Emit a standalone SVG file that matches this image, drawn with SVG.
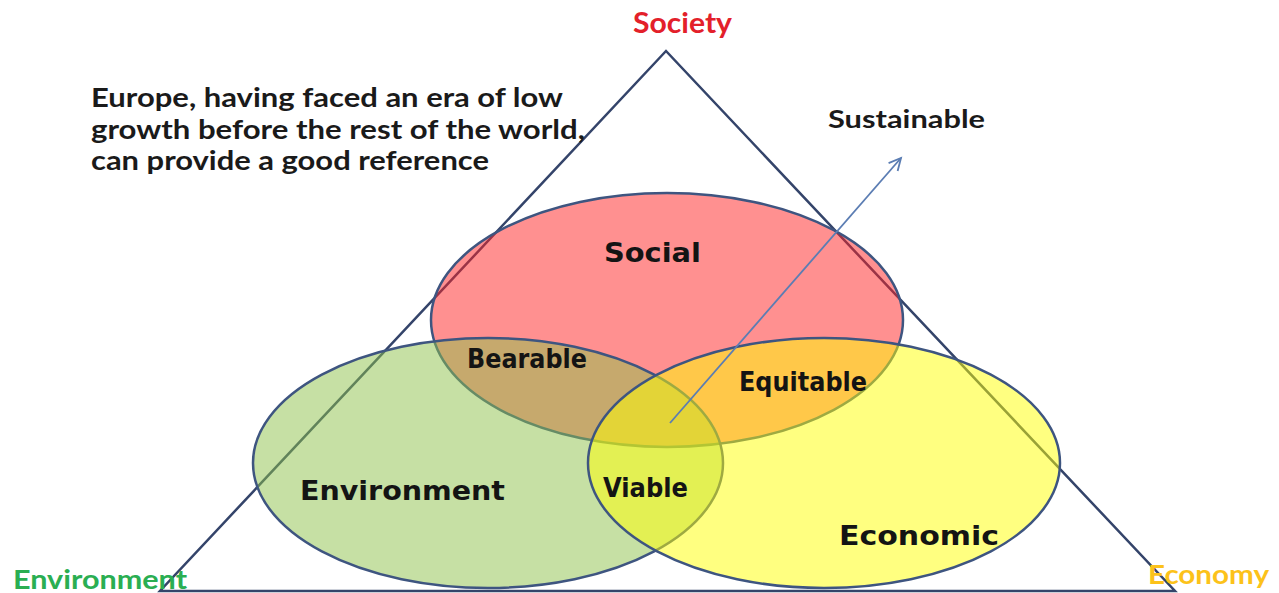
<svg xmlns="http://www.w3.org/2000/svg" width="1279" height="593" viewBox="0 0 1279 593">
  <style>
    .tri { fill: none; stroke: #34446a; stroke-width: 2.5; stroke-linejoin: miter; }
    .ell { stroke: #3e5580; stroke-width: 2.5; fill-opacity: 0.5; }
    .inner { font-family: "DejaVu Sans", "Liberation Sans", sans-serif; font-weight: bold; font-size: 26px; fill: #141414; }
    .cal { font-family: Lato, "Liberation Sans", sans-serif; font-weight: bold; }
    .para { font-size: 26px; fill: #1a1a1a; }
    .conn { stroke: #5b7db3; stroke-width: 1.8; fill: none; }
  </style>
  <defs>
    <marker id="openArrow" markerUnits="userSpaceOnUse" markerWidth="16" markerHeight="16" refX="13" refY="7" orient="auto" viewBox="0 0 16 14">
      <path d="M1,1 L13,7 L1,13" fill="none" stroke="#5b7db3" stroke-width="1.8"/>
    </marker>
  </defs>
  <rect width="1279" height="593" fill="#ffffff"/>

  <g id="triangle">
    <polygon class="tri" points="666,51 160,591 1175,591"/>
  </g>

  <g id="social">
    <ellipse class="ell" cx="667" cy="320" rx="236" ry="127" fill="#ff2121"/>
    <text class="inner" x="604" y="262" textLength="97" lengthAdjust="spacingAndGlyphs">Social</text>
  </g>
  <g id="environment">
    <ellipse class="ell" cx="488" cy="463" rx="235" ry="125" fill="#8dc149"/>
    <text class="inner" x="300" y="500" font-size="27" textLength="205" lengthAdjust="spacingAndGlyphs">Environment</text>
  </g>
  <g id="economic">
    <ellipse class="ell" cx="824" cy="463" rx="236" ry="125" fill="#ffff01"/>
    <text class="inner" x="839" y="545" textLength="160" lengthAdjust="spacingAndGlyphs">Economic</text>
  </g>
  <g id="bearable">
    <text class="inner" x="467" y="368" textLength="120" lengthAdjust="spacingAndGlyphs">Bearable</text>
  </g>
  <g id="equitable">
    <text class="inner" x="739" y="391" textLength="128" lengthAdjust="spacingAndGlyphs">Equitable</text>
  </g>
  <g id="viable">
    <text class="inner" x="603" y="497" textLength="85" lengthAdjust="spacingAndGlyphs">Viable</text>
  </g>

  <g id="connectors">
    <line class="conn" x1="670" y1="423" x2="901" y2="158" marker-end="url(#openArrow)"/>
  </g>

  <g id="sustainable">
    <text class="cal" x="828" y="128" font-size="25" fill="#1a1a1a" textLength="157" lengthAdjust="spacingAndGlyphs">Sustainable</text>
  </g>
  <g id="society-label">
    <text class="cal" x="633" y="33" font-size="28" fill="#e3202a" textLength="99" lengthAdjust="spacingAndGlyphs">Society</text>
  </g>
  <g id="environment-label">
    <text class="cal" x="13" y="589" font-size="27" fill="#2aae52" textLength="174" lengthAdjust="spacingAndGlyphs">Environment</text>
  </g>
  <g id="economy-label">
    <text class="cal" x="1148" y="584" font-size="27" fill="#fcc21a" textLength="121" lengthAdjust="spacingAndGlyphs">Economy</text>
  </g>
  <g id="note">
    <text class="cal para" x="91" y="107" textLength="472" lengthAdjust="spacingAndGlyphs">Europe, having faced an era of low</text>
    <text class="cal para" x="91" y="139" textLength="494" lengthAdjust="spacingAndGlyphs">growth before the rest of the world,</text>
    <text class="cal para" x="91" y="170" textLength="398" lengthAdjust="spacingAndGlyphs">can provide a good reference</text>
  </g>
</svg>
